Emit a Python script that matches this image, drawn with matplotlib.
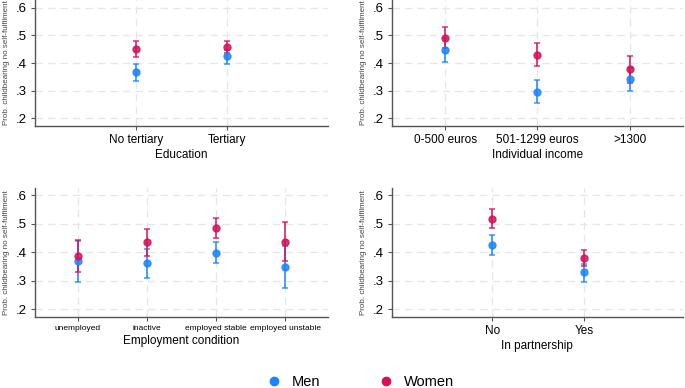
import matplotlib
matplotlib.use("Agg")
import matplotlib.pyplot as plt
from matplotlib.lines import Line2D

plt.rcParams["font.family"] = ["Liberation Sans", "DejaVu Sans"]

MEN_C = "#1a85ff"
WOMEN_C = "#d41159"

# panel data: estimate, lower CI, upper CI
edu_cats = ["No tertiary", "Tertiary"]
edu_men = [0.366, 0.425]
edu_men_lo = [0.334, 0.396]
edu_men_hi = [0.396, 0.448]
edu_women = [0.450, 0.457]
edu_women_lo = [0.421, 0.436]
edu_women_hi = [0.479, 0.479]

inc_cats = ["0-500 euros", "501-1299 euros", ">1300"]
inc_men = [0.448, 0.295, 0.341]
inc_men_lo = [0.403, 0.254, 0.300]
inc_men_hi = [0.490, 0.338, 0.382]
inc_women = [0.492, 0.430, 0.378]
inc_women_lo = [0.455, 0.389, 0.328]
inc_women_hi = [0.529, 0.471, 0.425]

emp_cats = ["unemployed", "inactive", "employed stable", "employed unstable"]
emp_men = [0.368, 0.362, 0.399, 0.349]
emp_men_lo = [0.295, 0.310, 0.361, 0.276]
emp_men_hi = [0.440, 0.412, 0.438, 0.424]
emp_women = [0.388, 0.435, 0.487, 0.438]
emp_women_lo = [0.330, 0.387, 0.452, 0.370]
emp_women_hi = [0.443, 0.483, 0.521, 0.506]

par_cats = ["No", "Yes"]
par_men = [0.426, 0.330]
par_men_lo = [0.391, 0.294]
par_men_hi = [0.460, 0.359]
par_women = [0.518, 0.379]
par_women_lo = [0.487, 0.351]
par_women_hi = [0.551, 0.407]

YLABEL = "Prob. childbearing no self-fulfilment"


def draw_panel(ax, cats, men, men_lo, men_hi, women, women_lo, women_hi,
               xlabel, xlim, ylim, tick_fs):
    xs = list(range(1, len(cats) + 1))
    for vals, lo, hi, col in [(men, men_lo, men_hi, MEN_C),
                              (women, women_lo, women_hi, WOMEN_C)]:
        err = [[v - l for v, l in zip(vals, lo)], [h - v for v, h in zip(vals, hi)]]
        ax.errorbar(xs, vals, yerr=err, fmt="o", color=col, ms=5, capsize=2.5,
                    elinewidth=1.3, capthick=1.1, alpha=0.85, zorder=3)
    ax.set_xlim(*xlim)
    ax.set_ylim(*ylim)
    ax.set_xticks(xs)
    ax.set_xticklabels(cats, fontsize=tick_fs)
    ax.set_yticks([0.2, 0.3, 0.4, 0.5, 0.6])
    ax.set_yticklabels([".2", ".3", ".4", ".5", ".6"], fontsize=9.5)
    ax.set_xlabel(xlabel, fontsize=8.5, labelpad=2)
    ax.set_ylabel(YLABEL, fontsize=5.8, color="#444444", labelpad=4)
    ax.grid(True, color="#e6e6e6", linestyle=(0, (6, 4)), linewidth=0.9, zorder=0)
    ax.set_axisbelow(True)
    for s in ["top", "right"]:
        ax.spines[s].set_visible(False)
    for s in ["left", "bottom"]:
        ax.spines[s].set_color("#555555")
        ax.spines[s].set_linewidth(1.0)
    ax.tick_params(axis="both", length=3, color="#555555", pad=3)


fig = plt.figure(figsize=(6.85, 3.88), dpi=100)
ax1 = fig.add_axes([0.051, 0.675, 0.428, 0.325])
ax2 = fig.add_axes([0.572, 0.675, 0.425, 0.325])
ax3 = fig.add_axes([0.051, 0.184, 0.428, 0.332])
ax4 = fig.add_axes([0.572, 0.184, 0.425, 0.332])

draw_panel(ax1, edu_cats, edu_men, edu_men_lo, edu_men_hi,
           edu_women, edu_women_lo, edu_women_hi,
           "Education", (-0.1, 3.1), (0.172, 0.628), 8.5)
draw_panel(ax2, inc_cats, inc_men, inc_men_lo, inc_men_hi,
           inc_women, inc_women_lo, inc_women_hi,
           "Individual income", (0.42, 3.58), (0.172, 0.628), 8.5)
draw_panel(ax3, emp_cats, emp_men, emp_men_lo, emp_men_hi,
           emp_women, emp_women_lo, emp_women_hi,
           "Employment condition", (0.38, 4.62), (0.174, 0.627), 6)
draw_panel(ax4, par_cats, par_men, par_men_lo, par_men_hi,
           par_women, par_women_lo, par_women_hi,
           "In partnership", (-0.09, 3.07), (0.174, 0.627), 8.5)

handles = [Line2D([], [], marker="o", ls="", color=MEN_C, ms=6, label="Men"),
           Line2D([], [], marker="o", ls="", color=WOMEN_C, ms=6, label="Women")]
fig.legend(handles=handles, loc="center", bbox_to_anchor=(0.526, 0.015), ncol=2,
           frameon=False, fontsize=10.5, columnspacing=4.0, handlelength=1.0,
           handletextpad=0.7)

fig.savefig("out.png", dpi=100)
